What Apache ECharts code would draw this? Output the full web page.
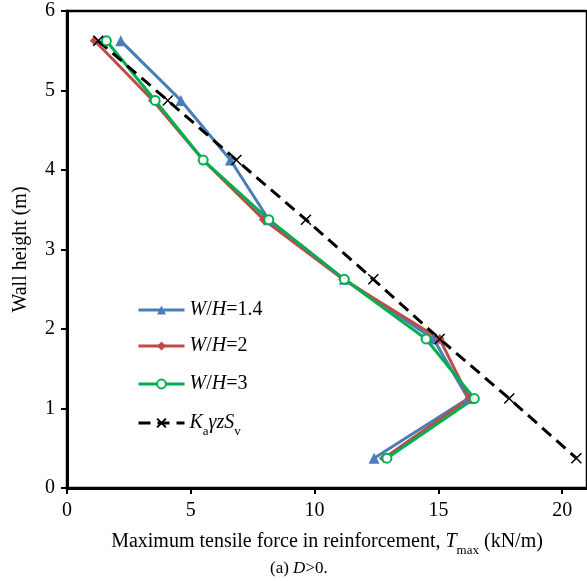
<!DOCTYPE html>
<html>
<head>
<meta charset="utf-8">
<script src="https://cdn.jsdelivr.net/npm/echarts@6/dist/echarts.min.js"></script>
<style>html,body{margin:0;padding:0;background:#fff;}#c{width:587px;height:581px;}</style>
</head>
<body>
<div id="c"></div>
<script>
// Data
const heights = [5.625, 4.875, 4.125, 3.375, 2.625, 1.875, 1.125, 0.375];
const tmaxWH14 = [2.17, 4.6, 6.6, 8.15, 11.2, 14.8, 16.2, 12.4];
const tmaxWH2 = [1.12, 3.47, 5.5, 7.95, 11.15, 15.05, 16.25, 12.8];
const tmaxWH3 = [1.59, 3.56, 5.5, 8.15, 11.2, 14.5, 16.45, 12.92];
const tmaxKa = [1.26, 4.07, 6.84, 9.65, 12.37, 15.05, 17.86, 20.57];
const seriesNames = ['W/H=1.4', 'W/H=2', 'W/H=3', 'KaγzSv'];
const xTicks = [0, 5, 10, 15, 20];
const yTicks = [0, 1, 2, 3, 4, 5, 6];

const FONT = '"Liberation Serif", "Times New Roman", serif';
const pairs = (xs) => xs.map((x, i) => [x, heights[i]]);
const crossPath = 'path://M0,0L10,10M10,0L0,10';

const rich = {
  n: { fontFamily: FONT, fontSize: 20, color: '#000', lineHeight: 30, verticalAlign: 'middle' },
  i: { fontFamily: FONT, fontSize: 20, color: '#000', fontStyle: 'italic', lineHeight: 30, verticalAlign: 'middle' },
  s: { fontFamily: FONT, fontSize: 13, color: '#000', lineHeight: 10, verticalAlign: 'bottom' }
};
const legendLabel = {
  'W/H=1.4': '{i|W}{n|/}{i|H}{n|=1.4}',
  'W/H=2': '{i|W}{n|/}{i|H}{n|=2}',
  'W/H=3': '{i|W}{n|/}{i|H}{n|=3}',
  'KaγzSv': '{i|K}{s|a}{i|γzS}{s|v}'
};
const legendTops = [300, 336, 374, 413];

const chart = echarts.init(document.getElementById('c'), null, { renderer: 'canvas' });
chart.setOption({
  animation: false,
  backgroundColor: '#fff',
  grid: { left: 67, right: -3, top: 11, bottom: 93, show: true, borderColor: '#000', borderWidth: 2.5, backgroundColor: 'transparent' },
  xAxis: {
    type: 'value', min: 0, max: 21, interval: 5,
    axisLine: { lineStyle: { color: '#000', width: 3 } },
    axisTick: { show: true, length: 6, inside: false, lineStyle: { color: '#000', width: 2 } },
    axisLabel: { fontFamily: FONT, fontSize: 20, color: '#000', margin: 13, showMaxLabel: false,
      formatter: (v) => xTicks.indexOf(v) >= 0 ? String(v) : '' },
    splitLine: { show: false },
    name: '{n|Maximum tensile force in reinforcement, }{i|T}{s|max}{n| (kN/m)}',
    nameLocation: 'middle', nameGap: 39,
    nameTextStyle: { rich: rich }
  },
  yAxis: {
    type: 'value', min: 0, max: 6, interval: 1,
    axisLine: { lineStyle: { color: '#000', width: 3 } },
    axisTick: { show: true, length: 6, inside: false, lineStyle: { color: '#000', width: 2 } },
    axisLabel: { fontFamily: FONT, fontSize: 20, color: '#000', margin: 12,
      formatter: (v) => yTicks.indexOf(v) >= 0 ? String(v) : '' },
    splitLine: { show: false },
    name: 'Wall height (m)', nameLocation: 'middle', nameGap: 36, nameRotate: 90,
    nameTextStyle: { fontFamily: FONT, fontSize: 20, color: '#000' }
  },
  legend: seriesNames.map((nm, k) => ({
    data: [nm], orient: 'vertical', left: 137, top: legendTops[k],
    itemWidth: 46, itemHeight: 11, itemGap: 0, padding: 0,
    lineStyle: { width: 3 },
    formatter: (name) => legendLabel[name],
    textStyle: { rich: rich }
  })),
  graphic: [{
    type: 'text', left: 270, top: 560,
    style: { text: '{n|(a) }{i|D}{n|>0.}', rich: {
      n: { fontFamily: FONT, fontSize: 17, color: '#000' },
      i: { fontFamily: FONT, fontSize: 17, color: '#000', fontStyle: 'italic' } } }
  }],
  series: [
    { name: seriesNames[0], type: 'line', data: pairs(tmaxWH14), symbol: 'triangle', symbolSize: 11,
      lineStyle: { color: '#4A7EBB', width: 3 }, itemStyle: { color: '#4A7EBB' } },
    { name: seriesNames[1], type: 'line', data: pairs(tmaxWH2), symbol: 'diamond', symbolSize: 10,
      lineStyle: { color: '#BE4B48', width: 3 }, itemStyle: { color: '#BE4B48' } },
    { name: seriesNames[2], type: 'line', data: pairs(tmaxWH3), symbol: 'emptyCircle', symbolSize: 9,
      lineStyle: { color: '#00B050', width: 3 }, itemStyle: { color: '#00B050', borderWidth: 1.5 } },
    { name: seriesNames[3], type: 'line', data: pairs(tmaxKa), symbol: crossPath, symbolSize: 10,
      lineStyle: { color: '#000', width: 3, type: [12, 7] },
      itemStyle: { color: '#000', borderColor: '#000', borderWidth: 1.5 } }
  ]
});
</script>
</body>
</html>
